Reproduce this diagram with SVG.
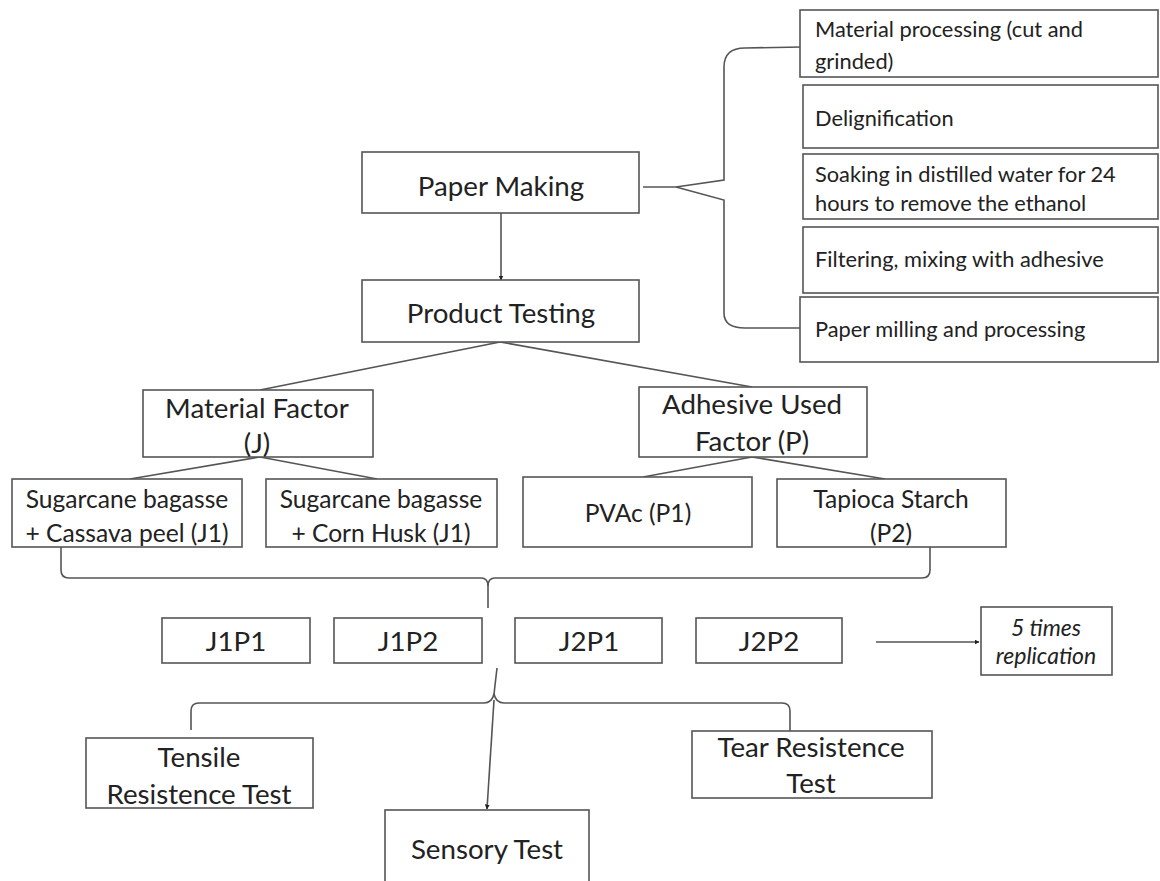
<svg xmlns="http://www.w3.org/2000/svg" width="1160" height="881" viewBox="0 0 1160 881">
<defs>
<style>
.bx{fill:#fff;stroke:#555;stroke-width:1.6}
.t{font-family:Lato,"Liberation Sans",sans-serif;fill:#222;text-anchor:middle;dominant-baseline:central}
.m{font-size:27.7px}
.o{font-size:24.6px}
.s{font-size:21.8px;text-anchor:start}
.r{font-size:23px;font-style:italic}
.ln{fill:none;stroke:#555;stroke-width:1.6}
</style>
<marker id="ah" viewBox="0 0 10 10" refX="9" refY="5" markerWidth="5" markerHeight="5" orient="auto" markerUnits="userSpaceOnUse">
<path d="M0,0 L10,5 L0,10 z" fill="#222"/>
</marker>
</defs>
<rect width="1160" height="881" fill="#fff"/>
<g id="connectors">
<path class="ln" d="M643,187 L676,187 L724,180 V67 Q724,48 745,48 L802,47"/>
<path class="ln" d="M676,187 L724,200 V313 Q724,328 745,328 L802,328"/>
<path class="ln" d="M501,213 V280" marker-end="url(#ah)"/>
<path class="ln" d="M500,342 L260,390"/>
<path class="ln" d="M500,342 L752,387"/>
<path class="ln" d="M260,457 L130,479"/>
<path class="ln" d="M260,457 L377,479"/>
<path class="ln" d="M752,457 L643,477"/>
<path class="ln" d="M752,457 L885,479"/>
<path class="ln" d="M61,547 V570 Q61,578 69,578 H481 Q488,578 488,586 V608"/>
<path class="ln" d="M930,547 V570 Q930,578 922,578 H495 Q488,578 488,586"/>
<path class="ln" d="M497,668 L494,694 Q492,703 484,703 H199 Q191,703 191,711 V730"/>
<path class="ln" d="M494,694 Q496,703 504,703 H782 Q790,703 790,711 V731"/>
<path class="ln" d="M494,700 L487,809" marker-end="url(#ah)"/>
<path class="ln" d="M876,642 H979" marker-end="url(#ah)"/>
</g>
<g id="n-mat-proc"><rect class="bx" x="800" y="10" width="358" height="67"/><text class="t s" x="815" y="28">Material processing (cut and</text><text class="t s" x="815" y="60">grinded)</text></g>
<g id="n-delig"><rect class="bx" x="803" y="85" width="355" height="63"/><text class="t s" x="815" y="117">Delignification</text></g>
<g id="n-soak"><rect class="bx" x="803" y="154" width="355" height="65"/><text class="t s" x="815" y="173">Soaking in distilled water for 24</text><text class="t s" x="815" y="202">hours to remove the ethanol</text></g>
<g id="n-filter"><rect class="bx" x="803" y="227" width="355" height="66"/><text class="t s" x="815" y="258">Filtering, mixing with adhesive</text></g>
<g id="n-mill"><rect class="bx" x="800" y="297" width="358" height="65"/><text class="t s" x="815" y="328">Paper milling and processing</text></g>
<g id="n-paper"><rect class="bx" x="362" y="152" width="277" height="61"/><text class="t m" x="501" y="185">Paper Making</text></g>
<g id="n-product"><rect class="bx" x="362" y="280" width="277" height="62"/><text class="t m" x="501" y="312">Product Testing</text></g>
<g id="n-matfac"><rect class="bx" x="143" y="390" width="230" height="67"/><text class="t m" x="257" y="407">Material Factor</text><text class="t m" x="257" y="442">(J)</text></g>
<g id="n-adh"><rect class="bx" x="639" y="387" width="228" height="70"/><text class="t m" x="752" y="403">Adhesive Used</text><text class="t m" x="752" y="440">Factor (P)</text></g>
<g id="n-j1a"><rect class="bx" x="12" y="479" width="230" height="68"/><text class="t o" x="127" y="498">Sugarcane bagasse</text><text class="t o" x="127" y="532">+ Cassava peel (J1)</text></g>
<g id="n-j1b"><rect class="bx" x="266" y="479" width="231" height="68"/><text class="t o" x="381" y="498">Sugarcane bagasse</text><text class="t o" x="381" y="532">+ Corn Husk (J1)</text></g>
<g id="n-p1"><rect class="bx" x="523" y="477" width="229" height="70"/><text class="t o" x="638" y="512">PVAc (P1)</text></g>
<g id="n-p2"><rect class="bx" x="777" y="479" width="229" height="68"/><text class="t o" x="891" y="498">Tapioca Starch</text><text class="t o" x="891" y="532">(P2)</text></g>
<g id="n-j1p1"><rect class="bx" x="162" y="618" width="148" height="45"/><text class="t m" x="236" y="640">J1P1</text></g>
<g id="n-j1p2"><rect class="bx" x="334" y="618" width="148" height="45"/><text class="t m" x="408" y="640">J1P2</text></g>
<g id="n-j2p1"><rect class="bx" x="515" y="618" width="147" height="45"/><text class="t m" x="589" y="640">J2P1</text></g>
<g id="n-j2p2"><rect class="bx" x="696" y="618" width="146" height="45"/><text class="t m" x="769" y="640">J2P2</text></g>
<g id="n-rep"><rect class="bx" x="981" y="607" width="131" height="68"/><text class="t r" x="1046" y="627">5 times</text><text class="t r" x="1046" y="655">replication</text></g>
<g id="n-tensile"><rect class="bx" x="86" y="738" width="227" height="70"/><text class="t m" x="199" y="756">Tensile</text><text class="t m" x="199" y="793">Resistence Test</text></g>
<g id="n-tear"><rect class="bx" x="692" y="731" width="240" height="67"/><text class="t m" x="811" y="746">Tear Resistence</text><text class="t m" x="811" y="782">Test</text></g>
<g id="n-sensory"><rect class="bx" x="385" y="810" width="204" height="80"/><text class="t m" x="487" y="848">Sensory Test</text></g>
</svg>
